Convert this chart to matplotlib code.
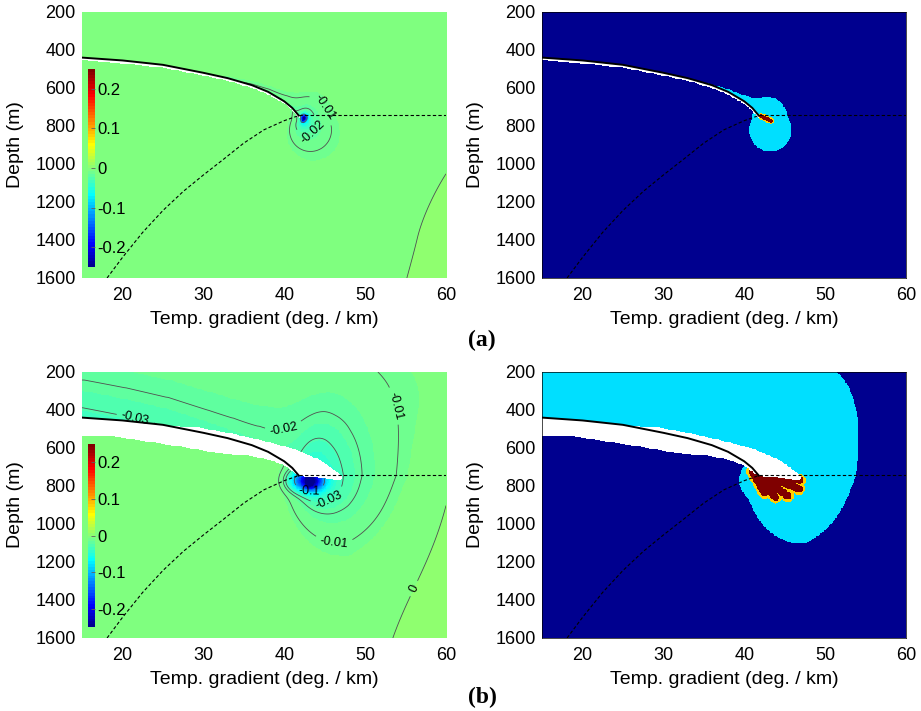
import numpy as np
import matplotlib
matplotlib.use('Agg')
import matplotlib.pyplot as plt
import matplotlib.cm as cm
from matplotlib.colors import ListedColormap, Normalize
from matplotlib.path import Path

plt.rcParams['font.family'] = ['Liberation Sans', 'DejaVu Sans']
plt.rcParams['axes.unicode_minus'] = False

# ---- values ----
x_ticks = [20, 30, 40, 50, 60]
y_ticks = [200, 400, 600, 800, 1000, 1200, 1400, 1600]
cbar_ticks = [-0.2, -0.1, 0, 0.1, 0.2]

# solid black boundary (deg/km, m)
curve_x = [15, 20, 25, 30, 33, 36, 38, 40, 41, 41.8]
curve_y = [440, 455, 478, 520, 548, 585, 620, 670, 705, 745]
# dashed boundary curve
dash_x = [18.1, 20, 22.5, 25, 27.5, 30, 32.5, 35, 37.5, 40, 41.8]
dash_y = [1600, 1492, 1360, 1245, 1145, 1058, 975, 890, 820, 772, 745]
# dashed horizontal line
flat_x = [41.8, 60]
flat_y = [742, 742]

# white (no data) area, case (b)
hole_b_x = [15, 20, 25, 29.4, 33.5, 37, 41.1, 44.4, 46.1, 46.9, 47.1, 46.9, 41.9,
            41.3, 40, 38.1, 35.6, 31.5, 27.4, 23.2, 19.1, 15]
hole_b_y = [440, 455, 478, 491, 523, 558, 602, 663, 716, 740, 755, 768, 746,
            732, 692, 662, 640, 625, 593, 567, 540, 532]
hole_a_width = 14  # m, thin white strip under the curve in case (a)

# plume (a, b)
core_x = [42.2, 42.8]
core_y = [770, 788]
core_q = [0.0008, 0.0017]
core_dir = [(0.62, 0.785), (1.0, 0.0)]
core_shift = 0.66
core_up = 0.5
# strong minimum right under the curve end (a, b)
blob_x = [42.4, 42.9]
blob_y = [755, 772]
blob_amp = [0.2, 0.19]
blob_su = [0.012, 0.055]
blob_sv = [0.012, 0.035]
# tail above the curve (a, b): strength at x=15 and at the curve end
tail_amp = [(0.0, 0.012), (0.034, 0.02)]
tail_len = [0.04, 0.25]
# weak positive ramp in lower right (a, b)
ramp_k = [0.0068, 0.018]
ramp_u0 = [0.95, 1.0]
ramp_v0 = [0.15, 0.0]
ramp_vs = [0.7, 0.5]

# contour levels and label spots
labels_a = {-0.1: [], -0.02: [(43.2, 817)], -0.01: [(43.4, 742)], 0: []}
labels_b = {-0.1: [(43.2, 807)], -0.03: [(21.8, 409), (45.7, 888)],
            -0.02: [(39.9, 479)], -0.01: [(54.1, 374), (46.2, 1075)], 0: [(56.0, 1339)]}

# dark red fan of the right panels: apex and finger ends
fan_a_apex, fan_a_end_x, fan_a_end_y = (42.1, 748), [43.3], [772]
fan_b_apex = (41.0, 722)
fan_b_end_x = [42.5, 43.9, 45.4, 46.8, 46.9]
fan_b_end_y = [835, 860, 852, 815, 770]
fan_half = [0.007, 0.014]
fan_rim = [0.005, 0.009]


def matlab_jet(m=64):
    n = int(np.ceil(m / 4))
    u = np.concatenate([np.arange(1, n + 1) / n, np.ones(n - 1), np.arange(n, 0, -1) / n])
    g = int(np.ceil(n / 2)) - (m % 4 == 1) + np.arange(1, len(u) + 1)
    r = g + n
    b = g - n
    J = np.zeros((m, 3))
    for col, idx in enumerate([r, g, b]):
        ok = (idx >= 1) & (idx <= m)
        J[idx[ok] - 1, col] = u[ok]
    return ListedColormap(J)


jet = matlab_jet(64)

# grid
gx = np.linspace(15, 60, 451)
gy = np.linspace(200, 1600, 351)
X, Y = np.meshgrid(gx, gy)
ASP = 364 / 266


def to_u(x):
    return (np.asarray(x, float) - 15) / 45 * ASP


def to_v(y):
    return (np.asarray(y, float) - 200) / 1400


U, V = to_u(X), to_v(Y)


def ring(i):
    qu = U - to_u(core_x[i])
    qv = V - to_v(core_y[i])
    qv = np.where(qv < 0, core_up * qv, qv)
    a = core_shift
    qe = qu * core_dir[i][0] + qv * core_dir[i][1]
    qq = qu ** 2 + qv ** 2
    r = (-a * qe + np.sqrt(a * a * qe * qe + (1 - a * a) * qq)) / (1 - a * a)
    return -core_q[i] / (r + 0.004)


def blob(i):
    du = (U - to_u(blob_x[i])) / blob_su[i]
    dv = (V - to_v(blob_y[i])) / blob_sv[i]
    return -blob_amp[i] * np.exp(-du ** 2 - dv ** 2)


def smooth(t):
    s = np.clip(t, 0, 1)
    return s * s * (3 - 2 * s)


def seg_dist(px, py, ax_, ay_, bx, by):
    du, dv = bx - ax_, by - ay_
    t = np.clip(((px - ax_) * du + (py - ay_) * dv) / (du * du + dv * dv), 0, 1)
    return np.hypot(px - ax_ - t * du, py - ay_ - t * dv), t


def tail(i):
    cu, cv = to_u(curve_x), to_v(curve_y)
    d_best = np.full(U.shape, np.inf)
    xn_best = np.zeros(U.shape)
    for k in range(len(cu) - 1):
        d, t = seg_dist(U, V, cu[k], cv[k], cu[k + 1], cv[k + 1])
        xn = curve_x[k] + t * (curve_x[k + 1] - curve_x[k])
        bt = d < d_best
        d_best[bt] = d[bt]
        xn_best[bt] = xn[bt]
    amp = np.interp(xn_best, [curve_x[0], curve_x[-1]], tail_amp[i])
    T = -amp * np.exp(-d_best / tail_len[i])
    cy = np.interp(X, curve_x, curve_y)
    w_below = smooth((X - 38) / 8.5) * np.minimum(1, np.exp(-(Y - curve_y[-1]) / 400))
    w = np.where(Y < cy, 1.0, w_below)
    return w * T


def ramp(i):
    fv = smooth((V - ramp_v0[i]) / ramp_vs[i])
    return ramp_k[i] * np.maximum(0, U - ramp_u0[i]) * fv


def inside(px, py):
    p = Path(np.column_stack([px, py]))
    return p.contains_points(np.column_stack([X.ravel(), Y.ravel()])).reshape(X.shape)


hole_a = inside(curve_x + curve_x[::-1],
                curve_y + [y + hole_a_width for y in curve_y[::-1]])
hole_b = inside(hole_b_x, hole_b_y)

F_a = ring(0) + blob(0) + tail(0) + ramp(0)
F_b = ring(1) + blob(1) + tail(1) + ramp(1)


def fan(apex, ex, ey):
    d_best = np.full(U.shape, np.inf)
    au, av = to_u(apex[0]), to_v(apex[1])
    for x1, y1 in zip(ex, ey):
        d, _ = seg_dist(U, V, au, av, to_u(x1), to_v(y1))
        d_best = np.minimum(d_best, d)
    return d_best


def categories(F, D, half, rim):
    C = np.zeros(F.shape)
    C[F < -0.01] = 1
    C[D < half + rim] = 2
    C[D < half] = 3
    return C


C_a = categories(F_a, fan(fan_a_apex, fan_a_end_x, fan_a_end_y), fan_half[0], fan_rim[0])
C_b = categories(F_b, fan(fan_b_apex, fan_b_end_x, fan_b_end_y), fan_half[1], fan_rim[1])

F_a = np.ma.masked_where(hole_a, F_a)
F_b = np.ma.masked_where(hole_b, F_b)
C_a = np.ma.masked_where(hole_a, C_a)
C_b = np.ma.masked_where(hole_b, C_b)

W, H = 921, 711
fig = plt.figure(figsize=(W / 100, H / 100), dpi=100)


def add_ax(x0, y0):
    return fig.add_axes([x0 / W, 1 - (y0 + 266) / H, 364 / W, 266 / H])


def decorate(ax, frame):
    ax.set_xlim(15, 60)
    ax.set_ylim(1600, 200)
    ax.set_xticks(x_ticks)
    ax.set_yticks(y_ticks)
    ax.tick_params(axis='x', length=0, labelsize=13, pad=6.5)
    ax.tick_params(axis='y', length=0, labelsize=13, pad=4.5)
    ax.set_xlabel('Temp. gradient (deg. / km)', fontsize=14)
    ax.set_ylabel('Depth (m)', fontsize=14)
    ax.xaxis.set_label_coords(0.5, -0.125)
    ax.yaxis.set_label_coords(-0.16, 0.5)
    for s in ax.spines.values():
        s.set_visible(frame)
        s.set_linewidth(0.5)
    ax.plot(curve_x, curve_y, color='k', lw=1.4, zorder=5)
    ax.plot(dash_x, dash_y, color='k', lw=0.8, ls=(0, (3, 2)), zorder=5)
    ax.plot(flat_x, flat_y, color='k', lw=0.8, ls=(0, (3, 2)), zorder=5)


def field_panel(ax, F, labels, cb_bottom, cb_height):
    ax.imshow(F, extent=(15, 60, 1600, 200), origin='upper', aspect='auto',
              cmap=jet, vmin=-0.25, vmax=0.25, interpolation='nearest')
    for lev, spots in labels.items():
        cs = ax.contour(gx, gy, F, levels=[lev], colors='#505050', linewidths=0.6,
                        negative_linestyles='solid')
        if spots:
            ax.clabel(cs, manual=spots, inline=True, fmt='%g', fontsize=9, colors='k')
    decorate(ax, False)
    cax = ax.inset_axes([6 / 364, cb_bottom, 7 / 364, cb_height])
    sm = cm.ScalarMappable(norm=Normalize(-0.25, 0.25), cmap=jet)
    cb = fig.colorbar(sm, cax=cax, ticks=cbar_ticks, format='%g')
    cb.outline.set_visible(False)
    cax.tick_params(labelsize=12, length=3, width=0.6, direction='in', pad=1.5,
                    color='#606060')


def class_panel(ax, C):
    ax.imshow(C, extent=(15, 60, 1600, 200), origin='upper', aspect='auto',
              cmap=jet, vmin=0, vmax=3, interpolation='nearest')
    decorate(ax, True)


field_panel(add_ax(82, 12), F_a, labels_a, 0.041, 0.745)
class_panel(add_ax(542, 12), C_a)
field_panel(add_ax(82, 372), F_b, labels_b, 0.041, 0.688)
class_panel(add_ax(542, 372), C_b)

fig.text(481.7 / W, 1 - 340 / H, '(a)', family='Liberation Serif', weight='bold',
         fontsize=17, ha='center', va='center')
fig.text(482 / W, 1 - 697.5 / H, '(b)', family='Liberation Serif', weight='bold',
         fontsize=17, ha='center', va='center')

fig.savefig('out.png', dpi=100)
